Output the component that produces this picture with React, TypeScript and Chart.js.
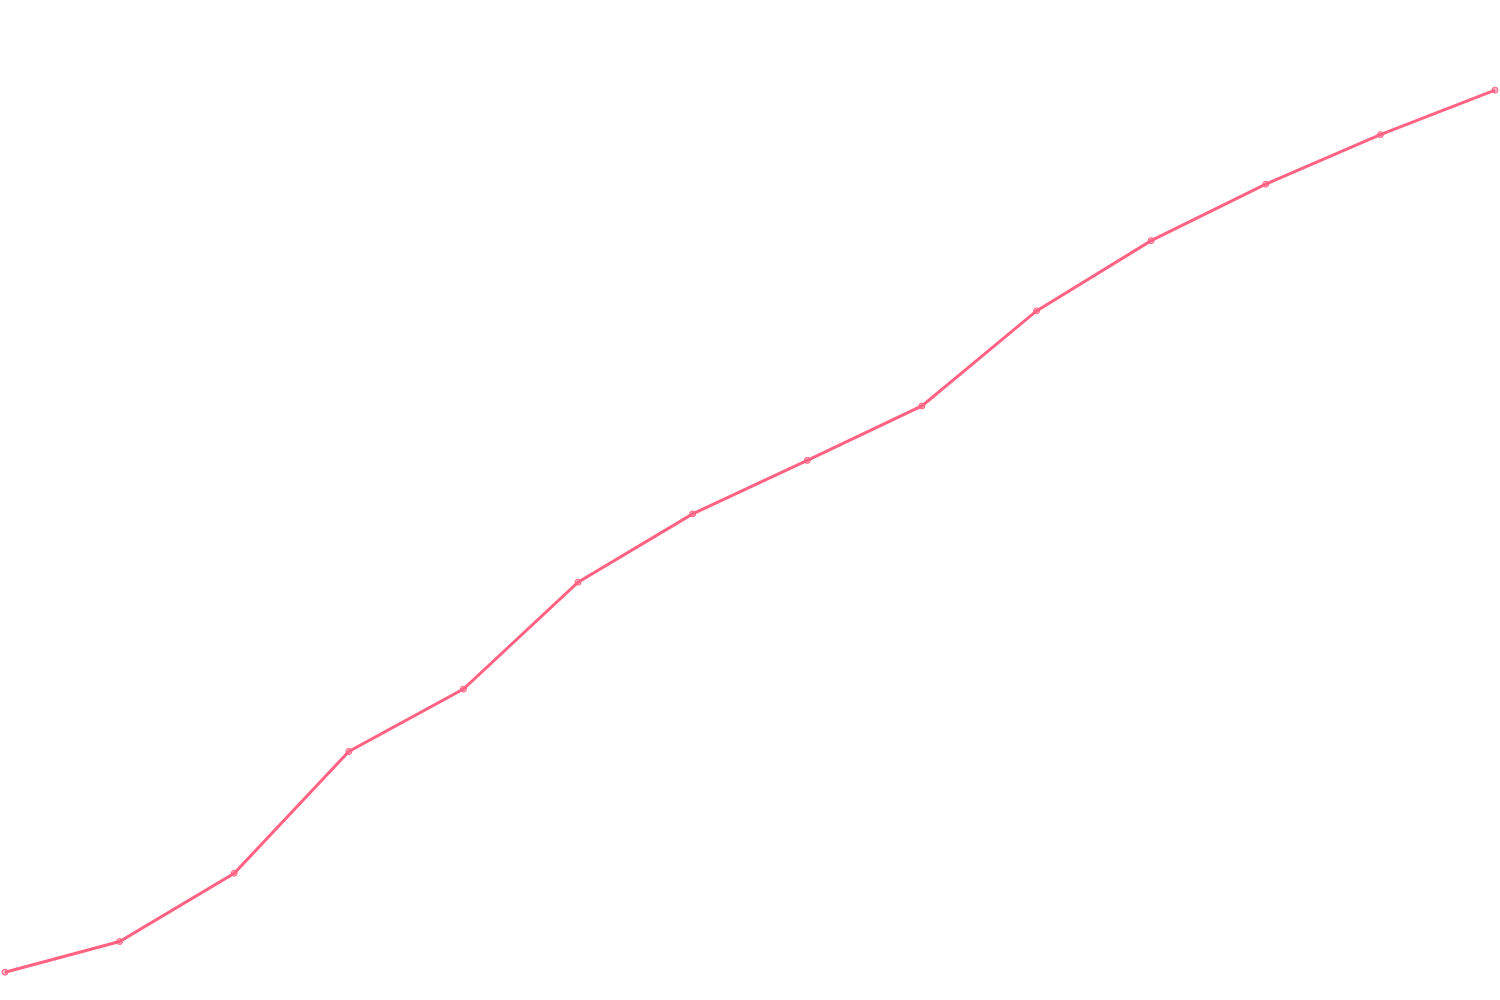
import { useEffect, useRef } from 'react';
import { Chart, registerables } from 'chart.js';

Chart.register(...registerables);

const labels = ['1', '2', '3', '4', '5', '6', '7', '8', '9', '10', '11', '12', '13', '14'];
const values = [2.3, 5.4, 12.3, 24.6, 30.9, 41.7, 48.6, 54.0, 59.5, 69.1, 76.2, 81.9, 86.9, 91.4];

const lineColor = 'rgb(255, 99, 132)';
const pointFill = 'rgba(255, 99, 132, 0.5)';

export default function App() {
  const canvasRef = useRef<HTMLCanvasElement>(null);
  const chartRef = useRef<Chart | null>(null);

  useEffect(() => {
    document.body.style.margin = '0';
    if (!canvasRef.current) return;

    chartRef.current?.destroy();
    chartRef.current = new Chart(canvasRef.current, {
      type: 'line',
      data: {
        labels,
        datasets: [
          {
            data: values,
            borderColor: lineColor,
            backgroundColor: pointFill,
            borderWidth: 3,
            pointRadius: 3,
            pointBorderWidth: 1,
            tension: 0,
          },
        ],
      },
      options: {
        responsive: true,
        maintainAspectRatio: false,
        animation: false,
        plugins: {
          legend: { display: false },
          tooltip: { enabled: false },
        },
        scales: {
          x: { display: false },
          y: { display: false, min: 0, max: 100 },
        },
      },
    });

    return () => {
      chartRef.current?.destroy();
      chartRef.current = null;
    };
  }, []);

  return (
    <div style={{ width: 1500, height: 1000, position: 'relative' }}>
      <canvas ref={canvasRef} />
    </div>
  );
}
